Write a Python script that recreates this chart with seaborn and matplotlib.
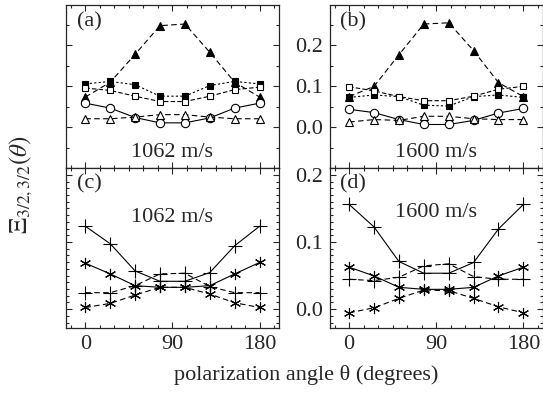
import numpy as np
import pandas as pd
import seaborn as sns
import matplotlib
matplotlib.use("Agg")
import matplotlib.pyplot as plt
from matplotlib.ticker import MultipleLocator

# polarization angles (degrees)
angles = [0, 25.7, 51.4, 77.1, 102.9, 128.6, 154.3, 180]

# panel (a) 1062 m/s
a_tri_filled = [0.074, 0.11, 0.178, 0.248, 0.252, 0.183, 0.11, 0.074]
a_sq_filled = [0.106, 0.112, 0.104, 0.076, 0.076, 0.102, 0.112, 0.106]
a_sq_open = [0.096, 0.090, 0.076, 0.063, 0.063, 0.076, 0.092, 0.098]
a_circle = [0.059, 0.047, 0.024, 0.011, 0.011, 0.023, 0.047, 0.059]
a_tri_open = [0.021, 0.021, 0.025, 0.031, 0.031, 0.025, 0.021, 0.021]

# panel (b) 1600 m/s
b_tri_filled = [0.075, 0.100, 0.177, 0.252, 0.255, 0.187, 0.109, 0.075]
b_sq_filled = [0.073, 0.079, 0.075, 0.054, 0.052, 0.075, 0.079, 0.073]
b_sq_open = [0.099, 0.089, 0.075, 0.065, 0.065, 0.076, 0.093, 0.100]
b_circle = [0.044, 0.036, 0.019, 0.007, 0.007, 0.017, 0.035, 0.046]
b_tri_open = [0.013, 0.019, 0.017, 0.027, 0.027, 0.021, 0.019, 0.019]

# panel (c) 1062 m/s
c_plus_solid = [0.1235, 0.0975, 0.057, 0.0415, 0.0415, 0.0545, 0.0945, 0.1235]
c_plus_dash = [0.0245, 0.0245, 0.035, 0.0525, 0.0535, 0.0335, 0.0245, 0.0245]
c_star_solid = [0.0685, 0.0525, 0.035, 0.0325, 0.0325, 0.035, 0.0525, 0.0695]
c_star_dash = [0.0025, 0.0085, 0.021, 0.0325, 0.0325, 0.0225, 0.0095, 0.0025]

# panel (d) 1600 m/s
d_plus_solid = [0.156, 0.1225, 0.071, 0.0535, 0.0535, 0.0695, 0.1195, 0.156]
d_plus_dash = [0.0445, 0.0425, 0.0475, 0.0645, 0.0675, 0.0485, 0.0445, 0.0445]
d_star_solid = [0.0625, 0.0495, 0.0325, 0.0295, 0.0295, 0.0325, 0.0495, 0.0625]
d_star_dash = [-0.0055, 0.002, 0.016, 0.0285, 0.0275, 0.016, 0.0035, -0.0055]

sns.set_style("ticks")
plt.rcParams["font.family"] = ["Liberation Serif", "DejaVu Serif"]
plt.rcParams["mathtext.fontset"] = "stix"
FS = 16
plt.rcParams["font.size"] = FS

fig, axes = plt.subplots(2, 2, figsize=(5.43, 3.97), dpi=100, sharex=True,
                         gridspec_kw={"height_ratios": [162, 160]})
fig.subplots_adjust(left=0.1215, right=0.9995, bottom=0.174, top=0.987,
                    wspace=0.239, hspace=0)

STAR = (6, 2, 0)
top_styles = [
    dict(marker="^", ls=(0, (5, 3)), mfc="k", ms=6),
    dict(marker="s", ls=(0, (2, 2)), mfc="k", ms=5),
    dict(marker="s", ls=(0, (4, 2)), mfc="white", ms=5),
    dict(marker="o", ls="-", mfc="white", ms=6),
    dict(marker="^", ls=(0, (5, 3)), mfc="white", ms=6),
]
bot_styles = [
    dict(marker="+", ls="-", ms=10),
    dict(marker="+", ls=(0, (5, 3)), ms=10),
    dict(marker=STAR, ls="-", ms=8),
    dict(marker=STAR, ls=(0, (5, 3)), ms=8),
]

panels = [
    (axes[0, 0], [a_tri_filled, a_sq_filled, a_sq_open, a_circle, a_tri_open], top_styles, "(a)", "1062 m/s"),
    (axes[0, 1], [b_tri_filled, b_sq_filled, b_sq_open, b_circle, b_tri_open], top_styles, "(b)", "1600 m/s"),
    (axes[1, 0], [c_plus_solid, c_plus_dash, c_star_solid, c_star_dash], bot_styles, "(c)", "1062 m/s"),
    (axes[1, 1], [d_plus_solid, d_plus_dash, d_star_solid, d_star_dash], bot_styles, "(d)", "1600 m/s"),
]

for i, (ax, series, styles, tag, speed) in enumerate(panels):
    for vals, st in zip(series, styles):
        sns.lineplot(x=angles, y=vals, ax=ax, color="k", lw=0.8,
                     linestyle=st["ls"], marker=st["marker"],
                     markersize=st["ms"], markerfacecolor=st.get("mfc", "k"),
                     markeredgecolor="k", markeredgewidth=0.8)
    ax.set_xlabel("")
    ax.set_ylabel("")
    ax.set_xlim(-20, 200)
    ax.xaxis.set_major_locator(MultipleLocator(90))
    ax.xaxis.set_minor_locator(MultipleLocator(15))
    if i < 2:
        ax.set_ylim(-0.098, 0.298)
        ax.yaxis.set_minor_locator(MultipleLocator(0.05))
        speed_y = 0.09
    else:
        ax.set_ylim(-0.028, 0.211)
        ax.yaxis.set_minor_locator(MultipleLocator(0.01))
        speed_y = 0.72 if i == 3 else 0.69
    ax.set_yticks([0.0, 0.1, 0.2])
    ax.set_yticklabels(["0.0", "0.1", "0.2"])
    ax.tick_params(which="both", direction="in", top=True, right=True,
                   width=0.8, labelsize=FS)
    ax.tick_params(which="major", length=4, pad=5)
    ax.tick_params(which="minor", length=2.5)
    if i % 2 == 0:
        ax.tick_params(axis="y", labelleft=False)
    for sp in ax.spines.values():
        sp.set_linewidth(0.9)
    ax.text(0.05, 0.9, tag, transform=ax.transAxes, fontsize=FS,
            ha="left", va="center")
    ax.text(0.5, speed_y, speed, transform=ax.transAxes, fontsize=FS,
            ha="center", va="center")

for ax in axes[1]:
    ax.set_xticks([0, 90, 180])
    ax.set_xticklabels(["0", "90", "180"])

fig.text(0.563, 0.055, "polarization angle θ (degrees)", ha="center",
         va="center", fontsize=FS)
fig.text(0.04, 0.534, r"$\Xi_{3/2,3/2}(\theta)$", rotation=90, ha="center",
         va="center", fontsize=18)

fig.savefig("out.png", dpi=100)
